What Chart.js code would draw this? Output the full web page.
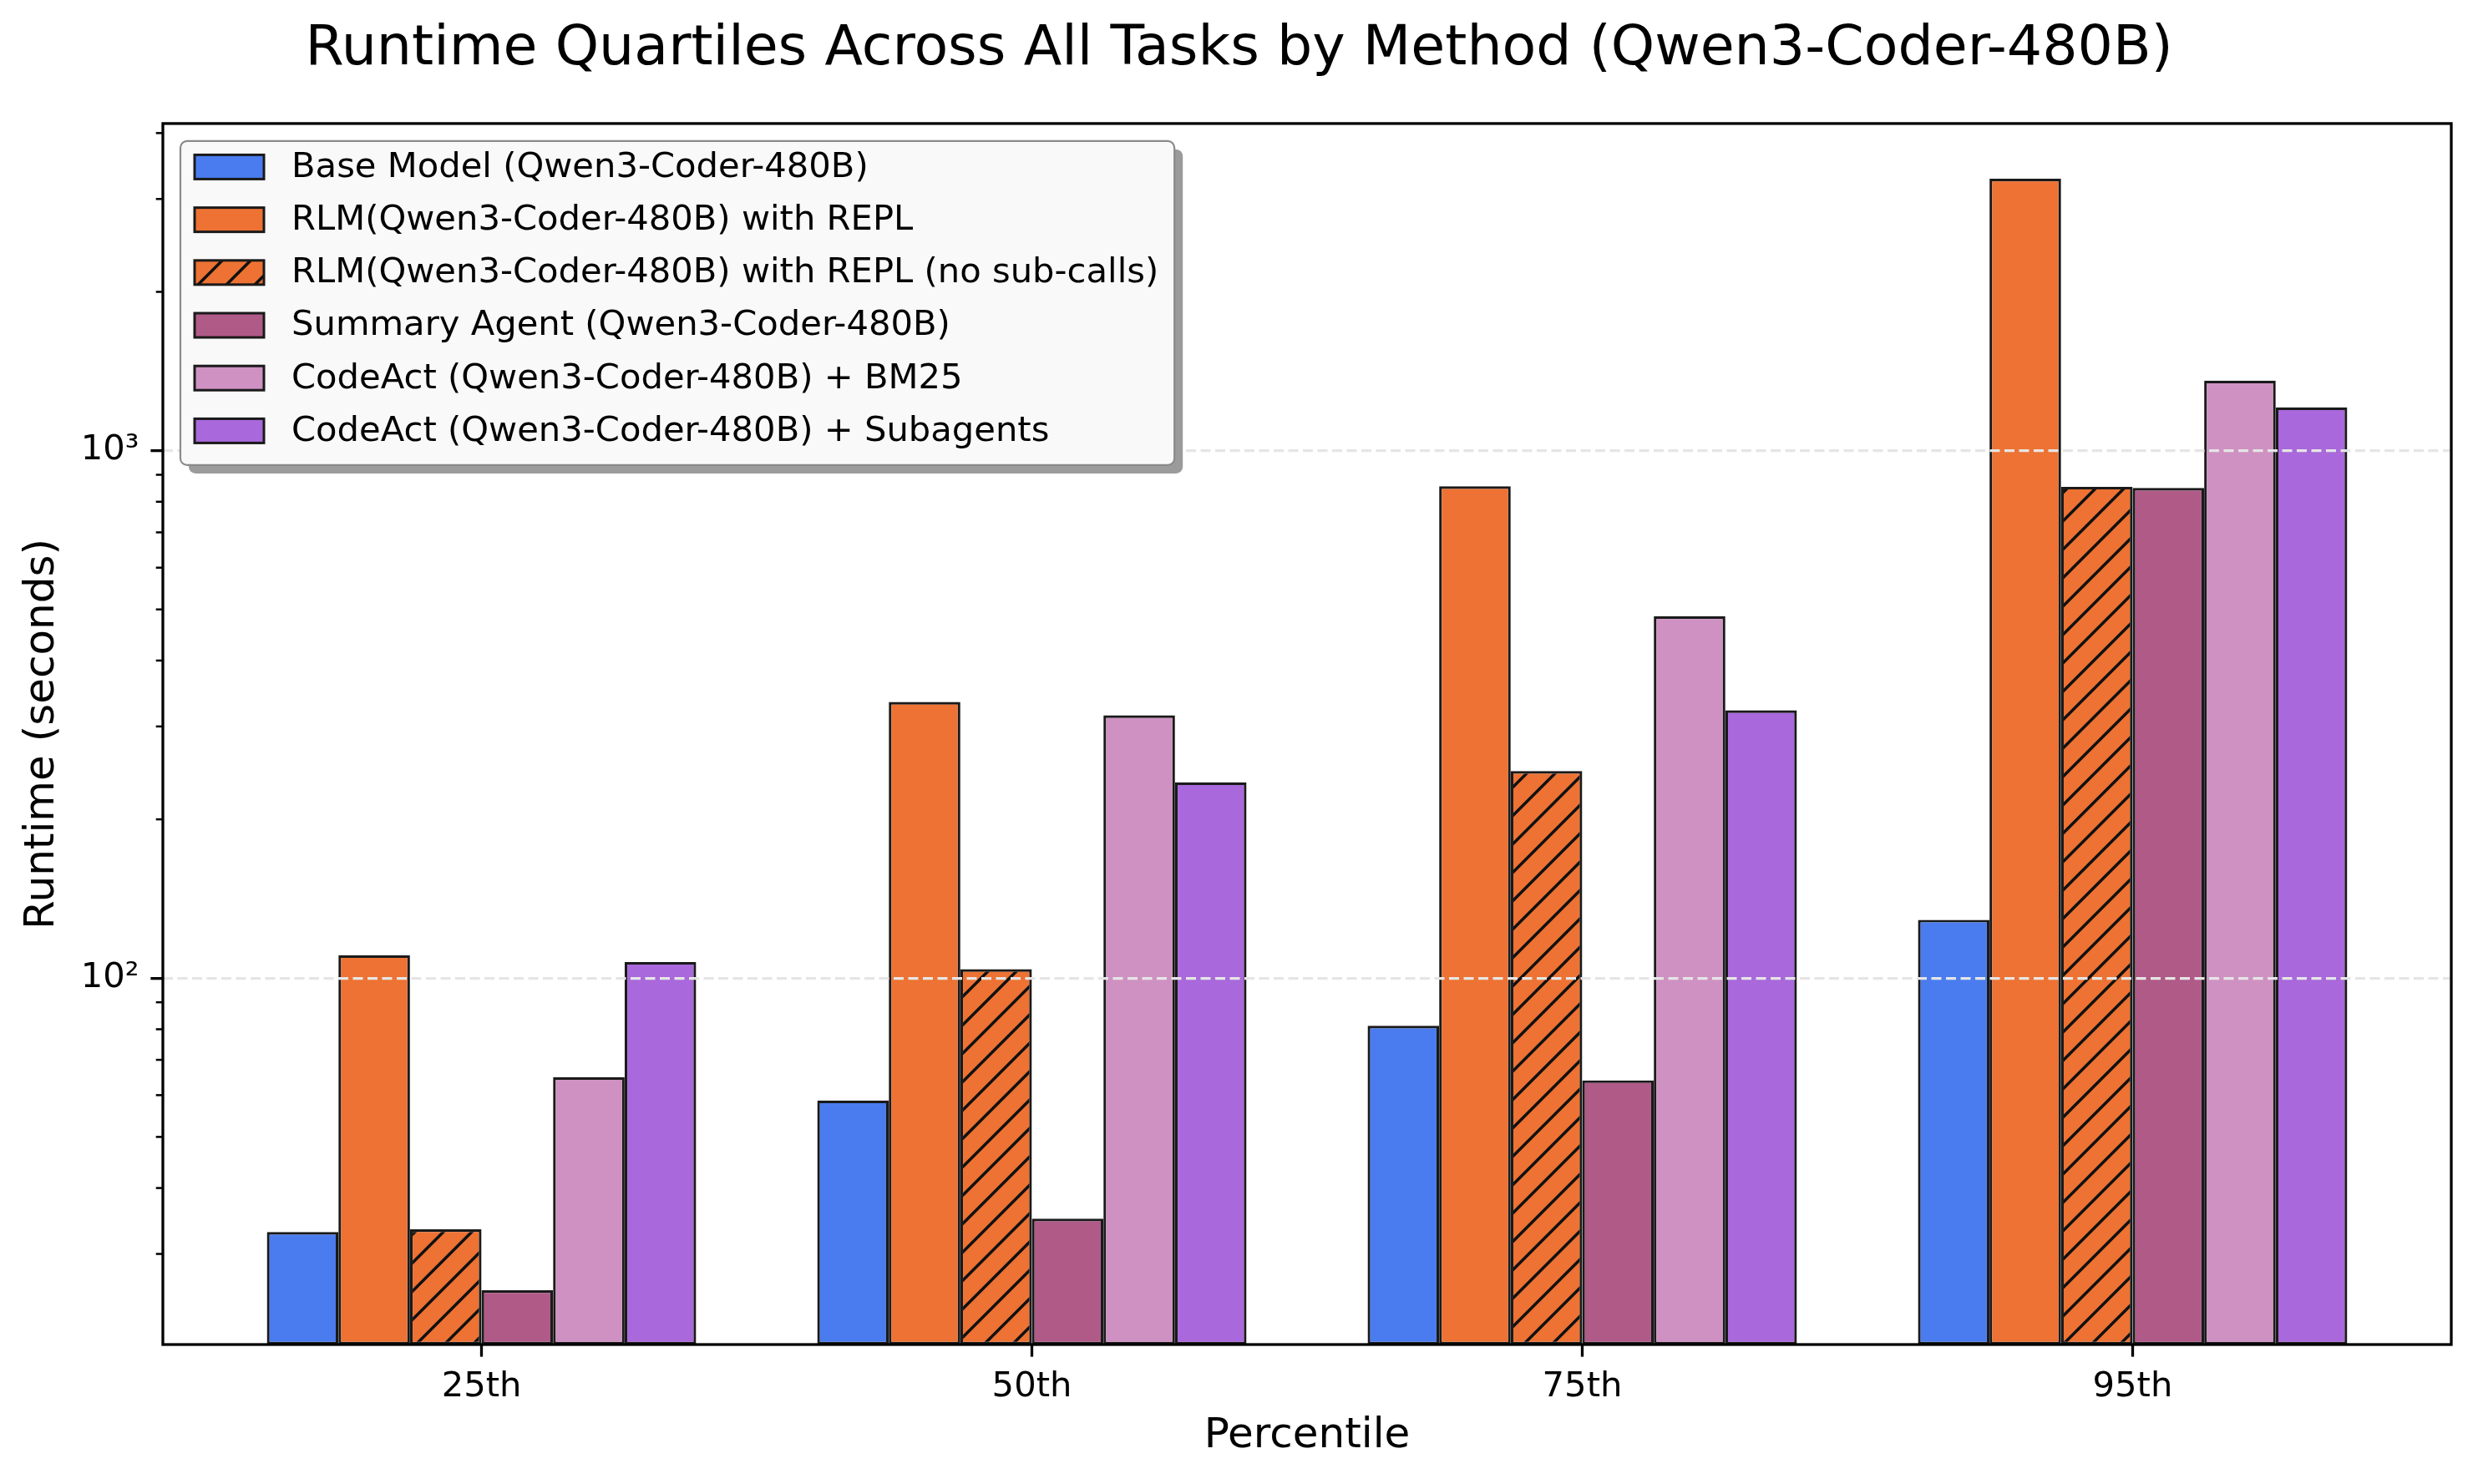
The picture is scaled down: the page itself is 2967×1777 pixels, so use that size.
<!DOCTYPE html>
<html>
<head>
<meta charset="utf-8">
<script src="https://cdn.jsdelivr.net/npm/chart.js@4.4.1/dist/chart.umd.min.js"></script>
<style>
  html, body { margin: 0; padding: 0; background: #fff; }
  canvas { display: block; }
</style>
</head>
<body>
<canvas id="chart" width="2967" height="1777"></canvas>
<script>
// data
const categories = ['25th', '50th', '75th', '95th'];
const seriesLabels = [
  'Base Model (Qwen3-Coder-480B)',
  'RLM(Qwen3-Coder-480B) with REPL',
  'RLM(Qwen3-Coder-480B) with REPL (no sub-calls)',
  'Summary Agent (Qwen3-Coder-480B)',
  'CodeAct (Qwen3-Coder-480B) + BM25',
  'CodeAct (Qwen3-Coder-480B) + Subagents'
];
const baseModel = [33.0, 58.6, 81.2, 129];
const rlmRepl = [110.5, 334, 856, 3276];
const rlmNoSub = [33.4, 104, 247, 854];
const summaryAgent = [25.6, 35.0, 64.0, 850];
const codeactBm25 = [64.9, 315, 485, 1357];
const codeactSub = [107.3, 235, 322, 1208];

const yMajorTicks = [100, 1000];
const yMajorLabels = ['10²', '10³'];
const yMinorTicks = [30, 40, 50, 60, 70, 80, 90, 200, 300, 400, 500, 600, 700, 800, 900, 2000, 3000, 4000];

const FONT = '"DejaVu Sans", sans-serif';
Chart.defaults.font.family = FONT;
Chart.defaults.color = '#000';

function makeHatch(bg) {
  const s = 34;
  const c = document.createElement('canvas');
  c.width = s; c.height = s;
  const g = c.getContext('2d');
  g.fillStyle = bg;
  g.fillRect(0, 0, s, s);
  g.strokeStyle = '#111';
  g.lineWidth = 3.5;
  g.beginPath();
  g.moveTo(0, s); g.lineTo(s, 0);
  g.moveTo(-s / 2, s / 2); g.lineTo(s / 2, -s / 2);
  g.moveTo(s / 2, s * 1.5); g.lineTo(s * 1.5, s / 2);
  g.stroke();
  return g.createPattern(c, 'repeat');
}

const colors = ['#4a7cef', '#ed7233', makeHatch('#ed7233'), '#b05a88', '#cf91c2', '#a968db'];
const series = [baseModel, rlmRepl, rlmNoSub, summaryAgent, codeactBm25, codeactSub];

const datasets = series.map((vals, i) => ({
  label: seriesLabels[i],
  data: vals.map((v, j) => ({ x: j, y: v })),
  backgroundColor: colors[i],
  borderColor: '#1a1a1a',
  borderWidth: 3.2,
  borderSkipped: false
}));

const framePlugin = {
  id: 'frameAndLegend',
  afterDraw(chart) {
    const { ctx, chartArea: a } = chart;
    const ys = chart.scales.y;
    ctx.save();
    // minor ticks on the log axis
    ctx.strokeStyle = '#000';
    ctx.lineWidth = 2.5;
    yMinorTicks.forEach(v => {
      if (v < ys.min || v > ys.max) return;
      const p = ys.getPixelForValue(v);
      ctx.beginPath();
      ctx.moveTo(a.left - 8.3, p);
      ctx.lineTo(a.left, p);
      ctx.stroke();
    });
    // axes frame
    ctx.lineWidth = 3.3;
    ctx.strokeRect(a.left, a.top, a.right - a.left, a.bottom - a.top);

    // legend box with shadow
    ctx.font = '41.7px ' + FONT;
    const x0 = a.left + 21, y0 = a.top + 21;
    const textX = x0 + 133;
    let maxW = 0;
    chart.data.datasets.forEach(d => { maxW = Math.max(maxW, ctx.measureText(d.label).width); });
    const boxW = textX - x0 + maxW + 19;
    const boxH = 388;
    ctx.fillStyle = '#9b9b9b';
    ctx.beginPath();
    ctx.roundRect(x0 + 10, y0 + 10, boxW, boxH, 8);
    ctx.fill();
    ctx.fillStyle = '#f9f9f9';
    ctx.strokeStyle = '#8a8a8a';
    ctx.lineWidth = 2.2;
    ctx.beginPath();
    ctx.roundRect(x0, y0, boxW, boxH, 8);
    ctx.fill();
    ctx.stroke();

    chart.data.datasets.forEach((d, i) => {
      const cy = y0 + 31 + i * 63.2;
      ctx.fillStyle = d.backgroundColor;
      ctx.fillRect(x0 + 17, cy - 14.5, 83, 29);
      ctx.strokeStyle = '#1a1a1a';
      ctx.lineWidth = 3;
      ctx.strokeRect(x0 + 17, cy - 14.5, 83, 29);
      ctx.fillStyle = '#000';
      ctx.textBaseline = 'middle';
      ctx.textAlign = 'left';
      ctx.fillText(d.label, textX, cy + 1);
    });
    ctx.restore();
  }
};

new Chart(document.getElementById('chart'), {
  type: 'bar',
  data: { datasets },
  options: {
    responsive: false,
    devicePixelRatio: 1,
    animation: false,
    layout: { padding: 0 },
    datasets: { bar: { categoryPercentage: 0.78, barPercentage: 1 } },
    plugins: {
      legend: { display: false },
      tooltip: { enabled: false },
      title: {
        display: true,
        text: 'Runtime Quartiles Across All Tasks by Method (Qwen3-Coder-480B)',
        font: { family: FONT, size: 66.6, weight: 'normal' },
        color: '#000',
        padding: { top: 20, bottom: 48 }
      }
    },
    scales: {
      x: {
        type: 'linear',
        min: -0.579,
        max: 3.579,
        offset: false,
        bounds: 'data',
        afterBuildTicks: s => { s.ticks = categories.map((c, i) => ({ value: i })); },
        afterFit: s => { s.height = 167; },
        ticks: {
          autoSkip: false,
          maxRotation: 0,
          padding: 12,
          font: { size: 41.7 },
          color: '#000',
          callback: v => categories[v]
        },
        grid: {
          offset: false,
          drawOnChartArea: false,
          drawTicks: true,
          tickLength: 14.6,
          tickWidth: 3.3,
          tickColor: '#000'
        },
        border: { display: false },
        title: {
          display: true,
          text: 'Percentile',
          font: { size: 50 },
          color: '#000',
          padding: 27
        }
      },
      y: {
        type: 'logarithmic',
        min: 20.2,
        max: 4170,
        bounds: 'data',
        afterBuildTicks: s => { s.ticks = yMajorTicks.map(v => ({ value: v, major: true })); },
        afterFit: s => { s.width = 195; },
        ticks: {
          autoSkip: false,
          padding: 14,
          font: { size: 41.7 },
          color: '#000',
          callback: v => {
            const k = yMajorTicks.indexOf(v);
            return k >= 0 ? yMajorLabels[k] : '';
          }
        },
        grid: {
          z: 1,
          color: '#e5e5e5',
          lineWidth: 3.3,
          drawTicks: true,
          tickLength: 14.6,
          tickWidth: 3.3,
          tickColor: '#000',
          tickBorderDash: []
        },
        border: { display: false, dash: [12, 5.5] },
        title: {
          display: true,
          text: 'Runtime (seconds)',
          font: { size: 50 },
          color: '#000',
          padding: 21
        }
      },
      // empty right-hand margin so the title centres on the whole figure
      yRight: {
        type: 'linear',
        position: 'right',
        display: true,
        afterFit: s => { s.width = 32; },
        ticks: { display: false },
        grid: { display: false },
        border: { display: false }
      }
    }
  },
  plugins: [framePlugin]
});
</script>
</body>
</html>
